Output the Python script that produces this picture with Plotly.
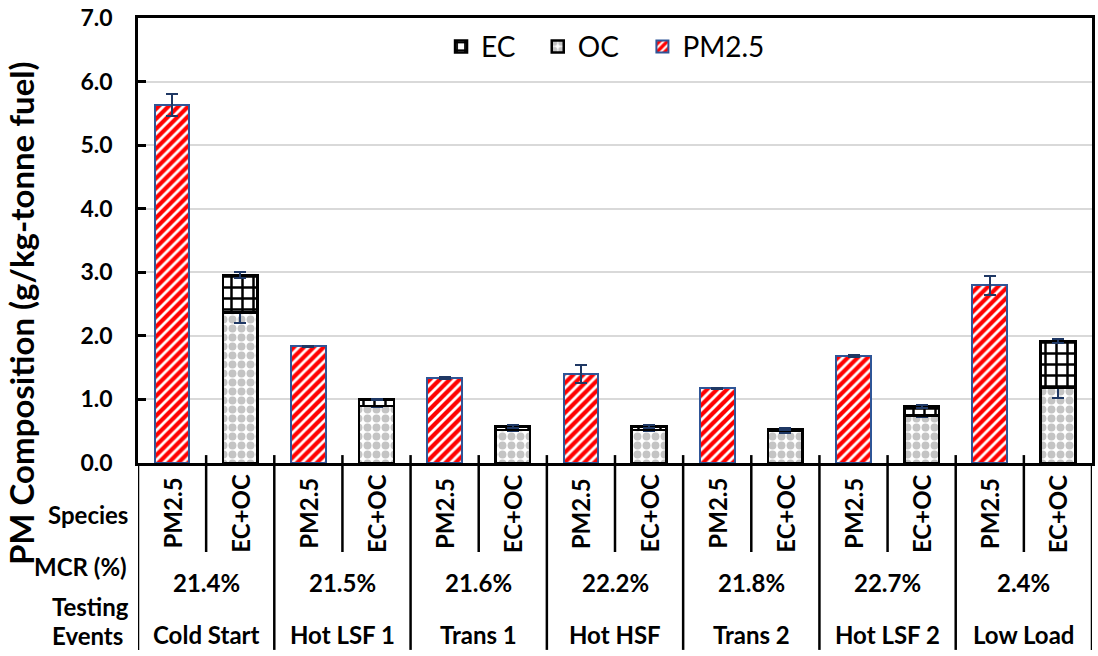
import plotly.graph_objects as go

events = ["Cold Start", "Hot LSF 1", "Trans 1", "Hot HSF", "Trans 2", "Hot LSF 2", "Low Load"]
mcr = ["21.4%", "21.5%", "21.6%", "22.2%", "21.8%", "22.7%", "2.4%"]
species = ["PM2.5", "EC+OC"]
y_ticks = [0, 1, 2, 3, 4, 5, 6, 7]
y_tick_labels = ["0.0", "1.0", "2.0", "3.0", "4.0", "5.0", "6.0", "7.0"]

pm25 = [5.63, 1.835, 1.34, 1.395, 1.177, 1.68, 2.795]
pm25_err = [0.17, 0.01, 0.02, 0.14, 0.01, 0.02, 0.15]
oc = [2.37, 0.90, 0.52, 0.52, 0.50, 0.75, 1.19]
oc_err = [0.17, 0.02, 0.02, 0.02, 0.03, 0.03, 0.17]
ec = [0.59, 0.10, 0.055, 0.055, 0.035, 0.14, 0.73]
ec_err = [0.05, 0.01, 0.02, 0.02, 0.02, 0.02, 0.03]

FONT = "Lato"
BOLD = "bold"
ERR = "#1F3864"

cats = [f"{e} {s}" for e in events for s in species]
pm_x = [f"{e} {species[0]}" for e in events]
ecoc_x = [f"{e} {species[1]}" for e in events]

fig = go.Figure()
fig.add_trace(go.Bar(
    name="OC", x=ecoc_x, y=oc, legend="legend2",
    marker=dict(color="white", line=dict(color="black", width=2.5),
                pattern=dict(shape=".", fgcolor="#C4C4C4", bgcolor="white", fgopacity=1,
                             size=9, solidity=0.6)),
    error_y=dict(type="data", array=oc_err, color=ERR, thickness=2, width=6),
))
fig.add_trace(go.Bar(
    name="EC", x=ecoc_x, y=ec, legend="legend",
    marker=dict(color="white", line=dict(color="black", width=2.5),
                pattern=dict(shape="+", fgcolor="black", bgcolor="white", fgopacity=1,
                             size=11, solidity=0.4)),
    error_y=dict(type="data", array=ec_err, color=ERR, thickness=2, width=6),
))
fig.add_trace(go.Bar(
    name="PM2.5", x=pm_x, y=pm25, legend="legend3",
    marker=dict(color="white", line=dict(color="#2F5597", width=2),
                pattern=dict(shape="/", fgcolor="#FF0000", bgcolor="white", fgopacity=1,
                             size=7, solidity=0.6)),
    error_y=dict(type="data", array=pm25_err, color=ERR, thickness=2, width=6),
))

T, B, L, R = 13, 193, 138, 3
W, H = 1098, 656
ph = H - T - B
pw = W - L - R

def py(pix):
    return (H - B - pix) / ph

def px(pix):
    return (pix - L) / pw

shapes = []
n = len(cats)
for k in range(n - 1):
    b = k + 0.5
    long_line = (k % 2 == 1)
    shapes.append(dict(type="line", xref="x", yref="paper", x0=b, x1=b,
                       y0=py(455), y1=py(652) if long_line else py(553),
                       line=dict(color="black", width=2.5)))
for b in (-0.5, n - 0.5):
    shapes.append(dict(type="line", xref="x", yref="paper", x0=b, x1=b,
                       y0=0, y1=py(652), line=dict(color="black", width=2.5)))

ann = []
tf = dict(family=FONT, size=24, color="black", weight=BOLD)
for i, c in enumerate(cats):
    ann.append(dict(x=i, y=py(514), xref="x", yref="paper", text=species[i % 2],
                    textangle=-90, showarrow=False, font=tf, xanchor="center", yanchor="middle"))
for j, e in enumerate(events):
    ann.append(dict(x=2 * j + 0.5, y=py(584), xref="x", yref="paper", text=mcr[j],
                    showarrow=False, font=tf, xanchor="center", yanchor="middle"))
    ann.append(dict(x=2 * j + 0.5, y=py(636), xref="x", yref="paper", text=e,
                    showarrow=False, font=tf, xanchor="center", yanchor="middle"))
row_labels = [("Species", 88, 515, "center"), ("MCR (%)", 80, 568, "center"),
              ("Testing", 50, 608, "left"), ("Events", 50, 637, "left")]
for t, xx, yy, anc in row_labels:
    ann.append(dict(x=px(xx), y=py(yy), xref="paper", yref="paper", text=t,
                    showarrow=False, font=tf, xanchor=anc, yanchor="middle"))
ann.append(dict(x=px(20), y=py(311), xref="paper", yref="paper",
                text="PM Composition (g/kg-tonne fuel)", textangle=-90, showarrow=False,
                font=dict(family=FONT, size=33, color="black", weight=BOLD),
                xanchor="center", yanchor="middle"))

def leg(xpix):
    return dict(orientation="h", x=px(xpix), xanchor="left", y=py(42), yanchor="middle",
                font=dict(family=FONT, size=28, color="black"), bgcolor="rgba(0,0,0,0)",
                borderwidth=0)

fig.update_layout(
    width=W, height=H, autosize=False,
    margin=dict(l=L, r=R, t=T, b=B, pad=0),
    barmode="stack", bargap=0.49,
    plot_bgcolor="white", paper_bgcolor="white",
    font=dict(family=FONT, color="black"),
    showlegend=True,
    legend=leg(442), legend2=leg(539), legend3=leg(644),
    shapes=shapes, annotations=ann,
    xaxis=dict(type="category", categoryorder="array", categoryarray=cats,
               range=[-0.5, n - 0.5], showticklabels=False, ticks="",
               showline=True, linecolor="black", linewidth=2.5, mirror=True,
               showgrid=False, zeroline=False, fixedrange=True),
    yaxis=dict(range=[0, 7], tickmode="array", tickvals=y_ticks, ticktext=y_tick_labels,
               ticks="inside", ticklen=8, ticklabelstandoff=18, ticklabeloverflow="allow",
               tickwidth=2.5, tickcolor="black", showline=True, linecolor="black",
               linewidth=2.5, mirror=True, showgrid=True, gridcolor="#D9D9D9",
               gridwidth=1.5, zeroline=False,
               tickfont=dict(family=FONT, size=23, color="black", weight=BOLD)),
)

fig.write_html("out.html", config={"displayModeBar": False},
               post_script="document.body.style.margin='0';document.body.style.padding='0';document.body.style.overflow='hidden';")
